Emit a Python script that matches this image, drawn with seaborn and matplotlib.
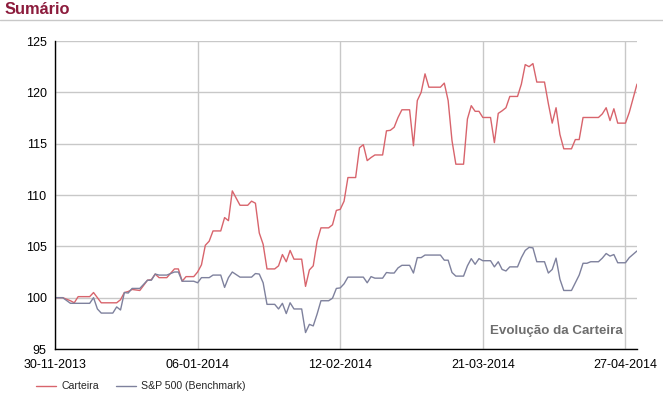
import matplotlib
matplotlib.use("Agg")
import matplotlib.pyplot as plt
import matplotlib.dates as mdates
from matplotlib.lines import Line2D
import numpy as np
import pandas as pd
import seaborn as sns

sns.set_style("white")
plt.rcParams["font.family"] = ["Liberation Sans", "DejaVu Sans"]

# ---------------------------------------------------------------------------
# Data (days since 30-11-2013, index base 100)
# ---------------------------------------------------------------------------
start_date = "2013-11-30"
day_offsets = [0, 2, 4, 5, 6, 9, 10, 11, 12, 15, 16, 17, 18, 19, 20, 22, 24, 25, 26, 27,
               29, 31, 32, 33, 34, 36, 37, 38, 39, 40, 41, 43, 44, 45, 46, 48, 50, 51, 52, 53,
               54, 55, 57, 58, 59, 60, 61, 62, 64, 65, 66, 67, 68, 69, 71, 72, 73, 74, 75, 76,
               78, 79, 80, 81, 82, 83, 85, 86, 87, 88, 89, 90, 92, 93, 94, 95, 96, 97, 99, 100,
               101, 102, 103, 104, 106, 107, 108, 109, 110, 111, 113, 114, 115, 116, 117, 118, 120, 121, 122, 123,
               124, 125, 127, 128, 129, 130, 131, 132, 134, 135, 136, 137, 138, 139, 141, 142, 143, 144, 145, 146,
               148, 149, 151]

carteira = [100.0, 100.0, 99.7, 99.5, 100.1, 100.1, 100.5, 100.0, 99.5, 99.5, 99.5, 99.8, 100.5, 100.6, 100.8, 100.7, 101.7, 101.75, 102.3, 101.95,
            101.95, 102.8, 102.8, 101.6, 102.05, 102.05, 102.5, 103.2, 105.1, 105.5, 106.5, 106.5, 107.8, 107.5, 110.4, 109.0, 109.0, 109.4, 109.2, 106.3,
            105.2, 102.8, 102.8, 103.1, 104.2, 103.5, 104.6, 103.75, 103.75, 101.1, 102.7, 103.1, 105.5, 106.8, 106.8, 107.1, 108.5, 108.6, 109.4, 111.7,
            111.7, 114.6, 114.9, 113.35, 113.65, 113.9, 113.9, 116.25, 116.3, 116.6, 117.55, 118.3, 118.3, 114.8, 119.2, 120.0, 121.8, 120.5, 120.5, 120.5,
            120.9, 119.2, 115.3, 113.0, 113.0, 117.4, 118.7, 118.15, 118.15, 117.55, 117.55, 115.1, 117.95, 118.2, 118.5, 119.6, 119.6, 120.8, 122.7, 122.5,
            122.8, 121.0, 121.0, 118.9, 117.0, 118.5, 115.9, 114.5, 114.5, 115.4, 115.4, 117.55, 117.55, 117.55, 117.55, 117.9, 118.5, 117.25, 118.4, 117.0,
            117.0, 118.05, 120.8]

benchmark = [100.0, 100.0, 99.45, 99.45, 99.45, 99.45, 100.0, 98.9, 98.5, 98.5, 99.1, 98.8, 100.5, 100.45, 100.9, 100.9, 101.7, 101.7, 102.3, 102.2,
             102.2, 102.5, 102.5, 101.6, 101.6, 101.6, 101.45, 101.95, 101.95, 101.95, 102.2, 102.2, 101.0, 101.95, 102.5, 102.0, 102.0, 102.0, 102.35, 102.3,
             101.45, 99.35, 99.35, 98.9, 99.45, 98.45, 99.5, 98.9, 98.9, 96.6, 97.4, 97.25, 98.4, 99.7, 99.7, 99.95, 100.9, 100.95, 101.35, 102.0,
             102.0, 102.0, 102.0, 101.45, 102.05, 101.9, 101.9, 102.45, 102.4, 102.4, 102.9, 103.15, 103.15, 102.4, 103.9, 103.9, 104.15, 104.15, 104.15, 104.15,
             103.65, 103.65, 102.45, 102.1, 102.1, 103.1, 103.8, 103.25, 103.8, 103.6, 103.6, 103.0, 103.5, 102.75, 102.6, 103.0, 103.0, 103.9, 104.6, 104.9,
             104.85, 103.5, 103.5, 102.4, 102.75, 103.85, 101.8, 100.7, 100.7, 101.45, 102.2, 103.35, 103.35, 103.5, 103.5, 103.85, 104.3, 104.05, 104.2, 103.4,
             103.4, 103.9, 104.55]

series_names = ["Carteira", "S&P 500 (Benchmark)"]
series_colors = ["#d8646c", "#7e819d"]
tick_dates = ["2013-11-30", "2014-01-06", "2014-02-12", "2014-03-21", "2014-04-27"]
end_date = "2014-04-30"

assert len(day_offsets) == len(carteira) == len(benchmark)

dates = pd.to_datetime(start_date) + pd.to_timedelta(day_offsets, unit="D")
df = pd.concat([
    pd.DataFrame({"date": dates, "value": carteira, "serie": series_names[0]}),
    pd.DataFrame({"date": dates, "value": benchmark, "serie": series_names[1]}),
])

# ---------------------------------------------------------------------------
# Plot
# ---------------------------------------------------------------------------
fig = plt.figure(figsize=(6.63, 3.97), dpi=100)
ax = fig.add_axes([55 / 663, 1 - 349 / 397, 582 / 663, 308 / 397])

sns.lineplot(data=df, x="date", y="value", hue="serie", hue_order=series_names,
             palette=series_colors, linewidth=1.0, ax=ax)

ax.set_xlim(pd.to_datetime(start_date), pd.to_datetime(end_date))
ax.set_ylim(95, 125)
ax.set_yticks(np.arange(95, 126, 5))
ax.set_xticks(pd.to_datetime(tick_dates))
ax.xaxis.set_major_formatter(mdates.DateFormatter("%d-%m-%Y"))
ax.set_xlabel("")
ax.set_ylabel("")

ax.grid(True, color="#c8c8c8", linewidth=1.0)
ax.set_axisbelow(True)
for side in ["top", "right"]:
    ax.spines[side].set_visible(False)
for side in ["left", "bottom"]:
    ax.spines[side].set_color("black")
    ax.spines[side].set_linewidth(1.0)
ax.tick_params(axis="both", direction="out", length=4, width=1, color="black",
               labelsize=9, labelcolor="black")
ax.tick_params(axis="y", pad=2)
ax.tick_params(axis="x", pad=3)

ax.text(0.975, 0.057, "Evolução da Carteira", transform=ax.transAxes,
        ha="right", va="center", fontsize=9.6, fontweight="bold", color="#6e6e6e")

ax.legend(loc="lower left", bbox_to_anchor=(30 / 663, 0.0), bbox_transform=fig.transFigure,
          ncol=2, frameon=False, fontsize=7.6, handlelength=1.9, handletextpad=0.5,
          columnspacing=1.6, borderaxespad=0.15)

# title bar
fig.text(5 / 663, 1 - 10 / 397, "Sumário", ha="left", va="center",
         fontsize=11.8, fontweight="bold", color="#8c1b3c")
fig.add_artist(Line2D([0, 1], [1 - 19.5 / 397, 1 - 19.5 / 397], transform=fig.transFigure,
                      color="#c8c8c8", linewidth=1.0))

fig.savefig("out.png", dpi=100)
plt.close(fig)
